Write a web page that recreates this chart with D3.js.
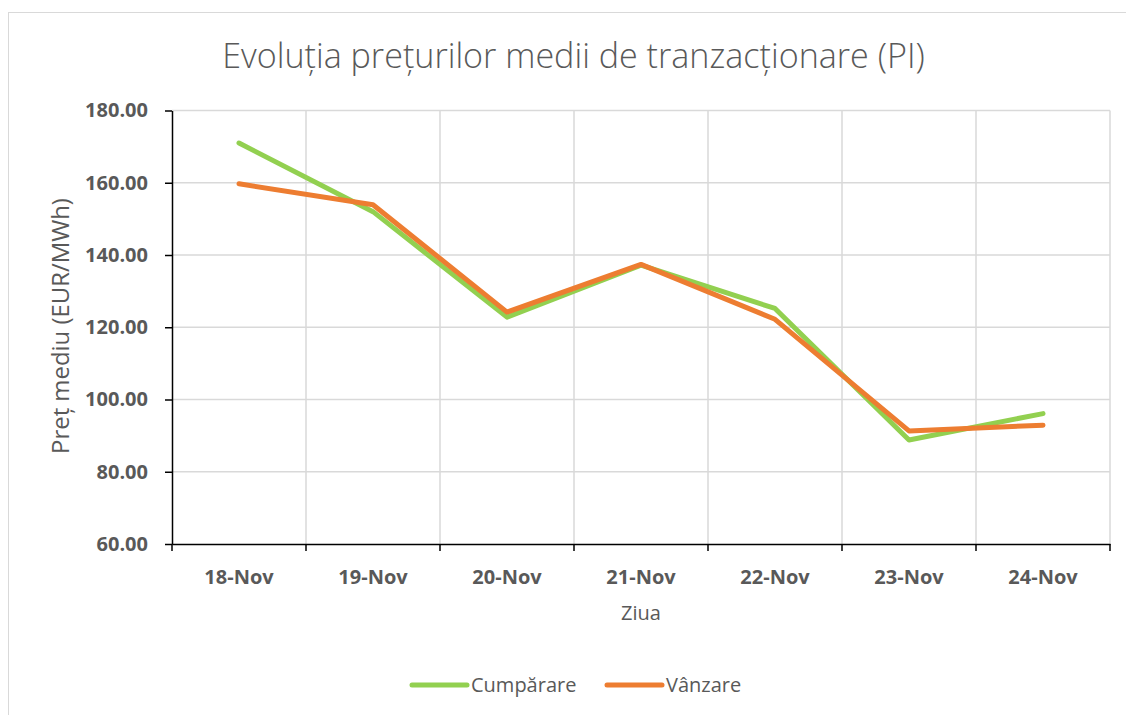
<!DOCTYPE html>
<html>
<head>
<meta charset="utf-8">
<script src="https://cdn.jsdelivr.net/npm/d3@7"></script>
<style>
  body { margin: 0; background: #fff; }
  svg { display: block; font-family: "Open Sans", sans-serif; }
</style>
</head>
<body>
<svg width="1126" height="715"></svg>
<script>
const days = ["18-Nov", "19-Nov", "20-Nov", "21-Nov", "22-Nov", "23-Nov", "24-Nov"];
const buyPrices = [171.0, 152.0, 122.8, 137.2, 125.2, 88.8, 96.1];
const sellPrices = [159.7, 153.9, 124.2, 137.4, 122.2, 91.3, 92.9];
const yTicks = [60, 80, 100, 120, 140, 160, 180];
const seriesNames = ["Cumpărare", "Vânzare"];
const seriesColors = ["#92d050", "#ed7d31"];

const svg = d3.select("svg");
const width = +svg.attr("width");
const height = +svg.attr("height");

const plot = {left: 172, right: 1110, top: 110.5, bottom: 544};
const textColor = "#595959";
const gridColor = "#d9d9d9";

// chart frame
svg.append("rect")
  .attr("x", 8.5).attr("y", 12.5)
  .attr("width", width + 10).attr("height", height + 10)
  .attr("fill", "#fff")
  .attr("stroke", gridColor);

const x = d3.scaleBand()
  .domain(days)
  .range([plot.left, plot.right]);

const y = d3.scaleLinear()
  .domain([60, 180])
  .range([plot.bottom, plot.top]);

const cx = (d) => x(d) + x.bandwidth() / 2;

// grid
const gridG = svg.append("g").attr("class", "grid");

gridG.selectAll("line.h")
  .data(yTicks.slice(1))
  .enter().append("line")
    .attr("class", "h")
    .attr("x1", plot.left).attr("x2", plot.right)
    .attr("y1", (d) => y(d)).attr("y2", (d) => y(d))
    .attr("stroke", gridColor).attr("stroke-width", 1.5);

const boundaries = days.map((d) => x(d)).concat([plot.right]);

gridG.selectAll("line.v")
  .data(boundaries.slice(1))
  .enter().append("line")
    .attr("class", "v")
    .attr("x1", (d) => d).attr("x2", (d) => d)
    .attr("y1", plot.top).attr("y2", plot.bottom)
    .attr("stroke", gridColor).attr("stroke-width", 1.5);

// y axis
const yAxisG = svg.append("g")
  .attr("transform", `translate(${plot.left},0)`)
  .call(d3.axisLeft(y)
    .tickValues(yTicks)
    .tickFormat(d3.format(".2f"))
    .tickSize(7)
    .tickSizeOuter(0)
    .tickPadding(17));

yAxisG.select(".domain").attr("stroke", "#000").attr("stroke-width", 1.5);
yAxisG.selectAll(".tick line").attr("stroke", "#000").attr("stroke-width", 1.5);
yAxisG.selectAll(".tick text")
  .attr("fill", textColor)
  .style("font-family", "'Open Sans', sans-serif")
  .style("font-size", "20px")
  .style("font-weight", "bold");

// x axis
const xAxisG = svg.append("g")
  .attr("transform", `translate(0,${plot.bottom})`)
  .call(d3.axisBottom(x)
    .tickSize(0)
    .tickSizeOuter(0)
    .tickPadding(26));

xAxisG.select(".domain").attr("stroke", "#000").attr("stroke-width", 1.5);
xAxisG.selectAll(".tick text")
  .attr("fill", textColor)
  .style("font-family", "'Open Sans', sans-serif")
  .style("font-size", "20px")
  .style("font-weight", "bold");

xAxisG.selectAll("line.boundary")
  .data(boundaries)
  .enter().append("line")
    .attr("class", "boundary")
    .attr("x1", (d) => d).attr("x2", (d) => d)
    .attr("y1", 0).attr("y2", 7)
    .attr("stroke", "#000").attr("stroke-width", 1.5);

// lines
const line = d3.line()
  .x((d, i) => cx(days[i]))
  .y((d) => y(d));

const linesG = svg.append("g").attr("class", "lines");

[buyPrices, sellPrices].forEach((values, i) => {
  linesG.append("path")
    .datum(values)
    .attr("d", line)
    .attr("fill", "none")
    .attr("stroke", seriesColors[i])
    .attr("stroke-width", 5)
    .attr("stroke-linejoin", "round")
    .attr("stroke-linecap", "round");
});

// titles
function fitText(sel, targetWidth) {
  const size = parseFloat(sel.style("font-size"));
  const w = sel.node().getComputedTextLength();
  sel.style("font-size", (size * targetWidth / w) + "px");
}

const title = svg.append("text")
  .attr("x", 573.5).attr("y", 68)
  .attr("text-anchor", "middle")
  .attr("fill", textColor)
  .style("font-size", "32px")
  .style("font-weight", 300)
  .text("Evoluția prețurilor medii de tranzacționare (PI)");
fitText(title, 703);

svg.append("text")
  .attr("x", 641).attr("y", 620)
  .attr("text-anchor", "middle")
  .attr("fill", textColor)
  .style("font-size", "20px")
  .text("Ziua");

const yTitle = svg.append("text")
  .attr("transform", "translate(69,326) rotate(-90)")
  .attr("text-anchor", "middle")
  .attr("fill", textColor)
  .style("font-size", "21px")
  .text("Preț mediu (EUR/MWh)");
fitText(yTitle, 256);

// legend
const legendX = [412, 607];
const legendG = svg.append("g").attr("class", "legend");

seriesNames.forEach((name, i) => {
  legendG.append("line")
    .attr("x1", legendX[i]).attr("x2", legendX[i] + 55)
    .attr("y1", 685).attr("y2", 685)
    .attr("stroke", seriesColors[i])
    .attr("stroke-width", 5)
    .attr("stroke-linecap", "round");
  legendG.append("text")
    .attr("x", legendX[i] + 59).attr("y", 692)
    .attr("fill", textColor)
    .style("font-size", "20px")
    .text(name);
});
</script>
</body>
</html>
